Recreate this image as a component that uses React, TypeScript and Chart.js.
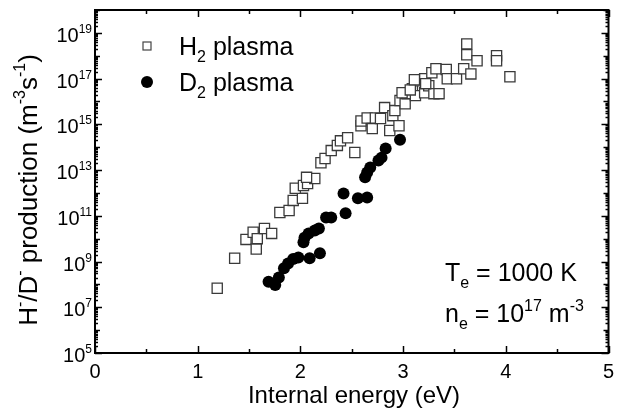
import { useEffect, useRef } from 'react';
import { Chart, registerables } from 'chart.js';

Chart.register(...registerables);

// ---- Data ----
const h2Energy = [
  1.19, 1.36, 1.47, 1.54, 1.58, 1.57, 1.65, 1.72, 1.80, 1.89, 1.93, 2.02, 1.95, 2.03, 2.07, 2.14,
  2.06, 2.20, 2.24, 2.30, 2.36, 2.39, 2.46, 2.53, 2.59, 2.59, 2.65, 2.70, 2.73, 2.78, 2.82, 2.87,
  2.90, 2.92, 2.96, 2.97, 3.02, 3.04, 3.09, 3.12, 3.16, 3.21, 3.21, 3.25, 3.28, 3.30, 3.32, 3.42,
  3.43, 3.52, 3.59, 3.66, 3.62, 3.62, 3.72, 3.91, 3.91, 4.04, 2.99, 3.07, 3.11, 3.22, 3.35,
];
const h2Rate = [
  6.8e7, 1.4e9, 9.3e9, 1.9e10, 1.0e10, 3.5e9, 2.8e10, 1.7e10, 1.4e11, 1.7e11, 4.7e11, 5.8e11, 1.6e12, 2.1e12, 2.6e12, 4.3e12,
  4.8e12, 2.1e13, 3.2e13, 7.1e13, 1.2e14, 1.9e14, 2.6e14, 5.9e13, 8.7e14, 1.4e15, 1.9e15, 6.5e14, 1.9e15, 1.8e15, 5.4e15, 5.4e14,
  2.4e15, 4.0e15, 8.7e14, 1.1e16, 7.9e15, 2.2e16, 3.6e16, 1.8e16, 8.1e16, 9.8e16, 2.4e16, 4.9e16, 1.8e17, 2.2e16, 2.7e17, 2.5e17,
  9.8e16, 9.8e16, 2.7e17, 1.6e17, 3.3e18, 1.1e18, 6.0e17, 1.0e18, 6.0e17, 1.2e17, 2.4e16, 3.2e16, 8.9e16, 6.0e16, 2.2e16,
];
const d2Energy = [
  1.69, 1.755, 1.79, 1.84, 1.88, 1.93, 1.98, 2.09, 2.19, 2.03, 2.04, 2.08, 2.14, 2.18,
  2.25, 2.30, 2.44, 2.42, 2.56, 2.65, 2.63, 2.65, 2.68, 2.76, 2.79, 2.83, 2.97,
];
const d2Rate = [
  1.3e8, 9.3e7, 2.0e8, 5.1e8, 8.3e8, 1.3e9, 1.5e9, 1.4e9, 2.3e9, 6.9e9, 1.1e10, 1.7e10, 2.3e10, 2.8e10,
  8.5e10, 8.5e10, 1.3e11, 9.5e11, 5.8e11, 6.3e11, 4.8e12, 7.8e12, 1.3e13, 2.6e13, 3.5e13, 8.7e13, 2.1e14,
];

const xTicks = [0, 1, 2, 3, 4, 5];
const xMinorTicks = [0.5, 1.5, 2.5, 3.5, 4.5];
const yLabelExponents = [5, 7, 9, 11, 13, 15, 17, 19];
const yMin = 1e5;
const yMax = 1e20;

const FONT = '"Liberation Sans", Arial, Helvetica, sans-serif';

type Seg = { t: string; s?: 'sup' | 'sub' };

function segFont(size: number, s?: 'sup' | 'sub') {
  return `${s ? Math.round(size * 0.62) : size}px ${FONT}`;
}
function richWidth(ctx: CanvasRenderingContext2D, segs: Seg[], size: number) {
  let w = 0;
  for (const g of segs) {
    ctx.font = segFont(size, g.s);
    w += ctx.measureText(g.t).width;
  }
  return w;
}
function drawRich(
  ctx: CanvasRenderingContext2D,
  segs: Seg[],
  x: number,
  y: number,
  size: number,
  align: 'left' | 'center' | 'right'
) {
  const w = richWidth(ctx, segs, size);
  let cx = align === 'center' ? x - w / 2 : align === 'right' ? x - w : x;
  ctx.textAlign = 'left';
  ctx.textBaseline = 'alphabetic';
  for (const g of segs) {
    ctx.font = segFont(size, g.s);
    const dy = g.s === 'sup' ? -size * 0.45 : g.s === 'sub' ? size * 0.28 : 0;
    ctx.fillText(g.t, cx, y + dy);
    cx += ctx.measureText(g.t).width;
  }
}

const decorPlugin = {
  id: 'decor',
  afterDraw(chart: any) {
    const ctx: CanvasRenderingContext2D = chart.ctx;
    const xa = chart.scales.x;
    const ya = chart.scales.y;
    const { left, right, top, bottom } = chart.chartArea;
    ctx.save();
    ctx.strokeStyle = '#000';
    ctx.fillStyle = '#000';
    ctx.lineCap = 'butt';

    const line = (x1: number, y1: number, x2: number, y2: number) => {
      ctx.beginPath();
      ctx.moveTo(x1, y1);
      ctx.lineTo(x2, y2);
      ctx.stroke();
    };

    // ticks (inward, mirrored)
    ctx.lineWidth = 1.5;
    for (const v of xTicks) {
      const px = Math.round(xa.getPixelForValue(v)) + 0.5;
      line(px, bottom, px, bottom - 7);
      line(px, top, px, top + 7);
    }
    for (const v of xMinorTicks) {
      const px = Math.round(xa.getPixelForValue(v)) + 0.5;
      line(px, bottom, px, bottom - 4);
      line(px, top, px, top + 4);
    }
    for (let e = 5; e <= 20; e++) {
      const py = Math.round(ya.getPixelForValue(Math.pow(10, e))) + 0.5;
      const len = e % 2 === 1 ? 7 : 5;
      line(left, py, left + len, py);
      line(right, py, right - len, py);
      if (e < 20) {
        for (let m = 2; m <= 9; m++) {
          const pm = Math.round(ya.getPixelForValue(m * Math.pow(10, e))) + 0.5;
          line(left, pm, left + 3, pm);
          line(right, pm, right - 3, pm);
        }
      }
    }

    // frame
    ctx.lineWidth = 2;
    ctx.strokeRect(left, top, right - left, bottom - top);

    // x tick labels
    ctx.fillStyle = '#000';
    ctx.font = `20px ${FONT}`;
    ctx.textAlign = 'center';
    ctx.textBaseline = 'alphabetic';
    for (const v of xTicks) {
      ctx.fillText(String(v), xa.getPixelForValue(v), 378);
    }

    // y tick labels: 10^n
    for (const e of yLabelExponents) {
      const py = ya.getPixelForValue(Math.pow(10, e));
      drawRich(ctx, [{ t: '10' }, { t: String(e), s: 'sup' }], 92, py + 9, 20, 'right');
    }

    // x title
    drawRich(ctx, [{ t: 'Internal energy (eV)' }], 354, 403, 24, 'center');

    // y title
    ctx.save();
    ctx.translate(28, 190);
    ctx.rotate(-Math.PI / 2);
    drawRich(
      ctx,
      [
        { t: 'H' },
        { t: '-', s: 'sup' },
        { t: '/D' },
        { t: '-', s: 'sup' },
        { t: ' production (m' },
        { t: '-3', s: 'sup' },
        { t: 's' },
        { t: '-1', s: 'sup' },
        { t: ')' },
      ],
      0,
      9,
      26,
      'center'
    );
    ctx.restore();

    // legend
    ctx.lineWidth = 1.2;
    ctx.strokeStyle = '#444';
    ctx.fillStyle = '#fff';
    ctx.fillRect(143, 42, 8, 8);
    ctx.strokeRect(143, 42, 8, 8);
    ctx.fillStyle = '#000';
    drawRich(ctx, [{ t: 'H' }, { t: '2', s: 'sub' }, { t: ' plasma' }], 179, 55, 25, 'left');
    ctx.beginPath();
    ctx.arc(147, 82, 6, 0, Math.PI * 2);
    ctx.fill();
    drawRich(ctx, [{ t: 'D' }, { t: '2', s: 'sub' }, { t: ' plasma' }], 179, 91, 25, 'left');

    // annotation
    drawRich(ctx, [{ t: 'T' }, { t: 'e', s: 'sub' }, { t: ' = 1000 K' }], 445, 281, 25, 'left');
    drawRich(
      ctx,
      [{ t: 'n' }, { t: 'e', s: 'sub' }, { t: ' = 10' }, { t: '17', s: 'sup' }, { t: ' m' }, { t: '-3', s: 'sup' }],
      445,
      322,
      25,
      'left'
    );

    ctx.restore();
  },
};

export default function App() {
  const ref = useRef<HTMLCanvasElement | null>(null);

  useEffect(() => {
    document.body.style.margin = '0';
    const canvas = ref.current;
    if (!canvas) return;
    const chart = new Chart(canvas, {
      type: 'scatter',
      data: {
        datasets: [
          {
            label: 'H2 plasma',
            data: h2Energy.map((x, i) => ({ x, y: h2Rate[i] })),
            pointStyle: 'rect',
            pointRadius: 7.2,
            backgroundColor: '#ffffff',
            borderColor: '#3a3a3a',
            borderWidth: 1.3,
            showLine: false,
          },
          {
            label: 'D2 plasma',
            data: d2Energy.map((x, i) => ({ x, y: d2Rate[i] })),
            pointStyle: 'circle',
            pointRadius: 6,
            backgroundColor: '#000000',
            borderColor: '#000000',
            borderWidth: 0,
            showLine: false,
          },
        ],
      },
      options: {
        animation: false,
        responsive: false,
        devicePixelRatio: 1,
        layout: { padding: { left: 95, right: 5, top: 10, bottom: 61 } },
        plugins: {
          legend: { display: false },
          tooltip: { enabled: false },
        },
        scales: {
          x: { type: 'linear', min: 0, max: 5, display: false },
          y: { type: 'logarithmic', min: yMin, max: yMax, display: false },
        },
      },
      plugins: [decorPlugin],
    });
    return () => chart.destroy();
  }, []);

  return (
    <div style={{ width: 617, height: 414, background: '#fff' }}>
      <canvas ref={ref} width={617} height={414} style={{ display: 'block', width: 617, height: 414 }} />
    </div>
  );
}
